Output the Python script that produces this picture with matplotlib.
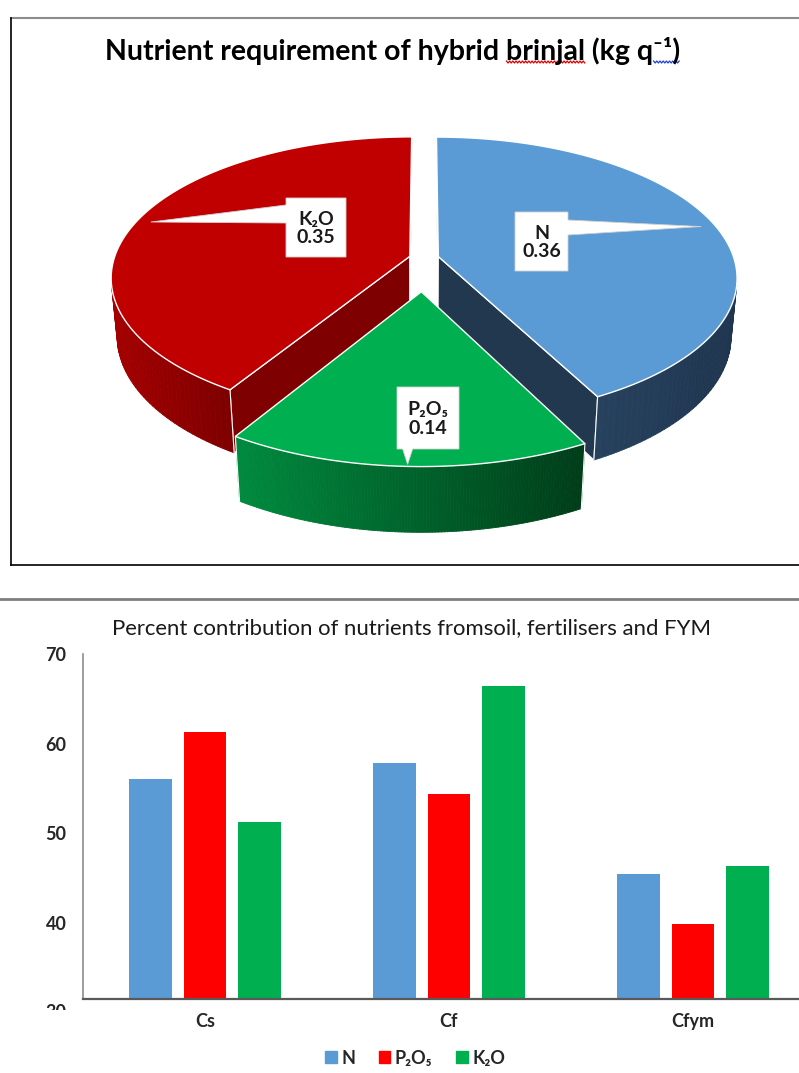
import numpy as np
import matplotlib.pyplot as plt
from matplotlib.patches import Polygon, Patch, Rectangle
from matplotlib.collections import PolyCollection
from matplotlib.colors import to_rgb

plt.rcParams['font.family'] = ['Lato', 'DejaVu Sans']

# nutrient requirement of hybrid brinjal, kg per quintal
nutrients = ['N', 'P₂O₅', 'K₂O']
requirement = [0.36, 0.14, 0.35]

# percent contribution from soil (Cs), fertiliser (Cf) and FYM (Cfym)
sources = ['Cs', 'Cf', 'Cfym']
share_n = [56.0, 57.8, 45.5]
share_p = [61.3, 54.4, 39.9]
share_k = [51.3, 66.4, 46.3]

W, H = 799, 1073
fig = plt.figure(figsize=(W / 100, H / 100), dpi=100)
renderer = fig.canvas.get_renderer()

# full-figure canvas in pixel units for the pie, frames and titles
bg = fig.add_axes([0, 0, 1, 1])
bg.set_xlim(0, W)
bg.set_ylim(H, 0)
bg.axis('off')

# ---------------- frames ----------------
bg.plot([11, W], [18, 18], color='#8C8C8C', lw=1.5)
bg.plot([11, 11], [18, 565], color='black', lw=1.2)
bg.plot([11, W], [565, 565], color='black', lw=1.2)
bg.plot([0, W], [599, 599], color='#7F7F7F', lw=2)


def fit_width(t, width_px):
    w = t.get_window_extent(renderer).width
    t.set_fontsize(t.get_fontsize() * width_px / w)


def text_width(s, size, weight):
    tmp = bg.text(0, 0, s, fontsize=size, fontweight=weight)
    w = tmp.get_window_extent(renderer).width
    tmp.remove()
    return w


# ---------------- pie title with spell-check squiggles ----------------
title_str = 'Nutrient requirement of hybrid brinjal (kg q⁻¹)'
t1 = bg.text(393, 51, title_str, ha='center', va='center',
             fontsize=16, fontweight='bold', color='black')
fit_width(t1, 577)
fs1 = t1.get_fontsize()
total_w = text_width(title_str, fs1, 'bold')
left = 393 - total_w / 2
end_brinjal = left + text_width('Nutrient requirement of hybrid brinjal', fs1, 'bold')
start_brinjal = end_brinjal - text_width('brinjal', fs1, 'bold')
start_sup = left + text_width('Nutrient requirement of hybrid brinjal (kg q', fs1, 'bold')


def squiggle(x0, x1, y, color):
    xs = np.arange(x0, x1, 1.6)
    ys = y + np.where(np.arange(len(xs)) % 2 == 0, -1.0, 1.0)
    bg.plot(xs, ys, color=color, lw=0.9)


squiggle(start_brinjal, end_brinjal, 62, '#E00000')
squiggle(start_sup, left + total_w, 62, '#2040E0')

# ---------------- 3-D exploded pie ----------------
top_colors = ['#5B9BD5', '#00B050', '#C00000']
wall_colors = [('#27425E', '#1F3550'), ('#008A3E', '#003D19'), ('#A40000', '#7E0000')]
cut_colors = ['#22384F', '#005A28', '#7F0000']
explode = [0.05, 0.235, 0.05]

FOC, DIST = 1726.0, 5.95
PHI = np.arcsin(0.495)
THICK = 0.225
CX, CY = 424.0, 316.0
CAM = np.array([0.0, DIST * np.sin(PHI), -DIST * np.cos(PHI)])


def project(X, Y, Z):
    d = DIST + Z * np.cos(PHI) - Y * np.sin(PHI)
    u = FOC * X / d
    v = FOC * (Y * np.cos(PHI) + Z * np.sin(PHI)) / d
    return CX + u, CY - v


def faces_camera(normal, point):
    return np.dot(normal, CAM - np.asarray(point)) > 0


total = sum(requirement)
slices = []
start = 90.0
for i, val in enumerate(requirement):
    span = 360.0 * val / total
    th_s, th_e = start, start - span
    start = th_e
    mid = np.radians((th_s + th_e) / 2)
    ox, oz = explode[i] * np.cos(mid), explode[i] * np.sin(mid)
    slices.append(dict(i=i, th_s=np.radians(th_s), th_e=np.radians(th_e),
                       mid=mid, ox=ox, oz=oz))

# farthest slice first
slices.sort(key=lambda s: -(s['oz']))
z = 2
for s in slices:
    i, ox, oz = s['i'], s['ox'], s['oz']
    th = np.linspace(s['th_s'], s['th_e'], 121)
    rx, rz = ox + np.cos(th), oz + np.sin(th)
    tx, ty = project(rx, THICK, rz)
    bx_, by_ = project(rx, 0.0, rz)
    apx_t = project(ox, THICK, oz)
    apx_b = project(ox, 0.0, oz)

    # radial cut faces
    for ang, sign in ((s['th_s'], 1), (s['th_e'], -1)):
        normal = sign * np.array([-np.sin(ang), 0.0, np.cos(ang)])
        pt = (ox + 0.5 * np.cos(ang), THICK / 2, oz + 0.5 * np.sin(ang))
        if faces_camera(normal, pt):
            rt = project(ox + np.cos(ang), THICK, oz + np.sin(ang))
            rb = project(ox + np.cos(ang), 0.0, oz + np.sin(ang))
            bg.add_patch(Polygon([apx_t, rt, rb, apx_b], closed=True,
                                 fc=cut_colors[i], ec='white', lw=0.8, zorder=z))

    # curved outer wall with horizontal shading
    tm = (th[:-1] + th[1:]) / 2
    vis = np.array([faces_camera(np.array([np.cos(a), 0.0, np.sin(a)]),
                                 (ox + np.cos(a), THICK / 2, oz + np.sin(a))) for a in tm])
    if vis.any():
        xm = (tx[:-1] + tx[1:]) / 2
        lo, hi = xm[vis].min(), xm[vis].max()
        c0, c1 = np.array(to_rgb(wall_colors[i][0])), np.array(to_rgb(wall_colors[i][1]))
        quads, cols = [], []
        for k in np.where(vis)[0]:
            quads.append([(tx[k], ty[k]), (tx[k + 1], ty[k + 1]),
                          (bx_[k + 1], by_[k + 1]), (bx_[k], by_[k])])
            t = (xm[k] - lo) / max(hi - lo, 1e-6)
            cols.append(c0 * (1 - t) + c1 * t)
        bg.add_collection(PolyCollection(quads, facecolors=cols, edgecolors=cols,
                                         linewidths=0.6, zorder=z))
        for k in (0, len(th) - 1):
            if vis[min(k, len(vis) - 1)]:
                bg.plot([tx[k], bx_[k]], [ty[k], by_[k]], color='white', lw=0.8, zorder=z + 0.5)

    # top face
    bg.add_patch(Polygon([apx_t] + list(zip(tx, ty)), closed=True,
                         fc=top_colors[i], ec='white', lw=1.0, zorder=z + 1))
    z += 2

# ---------------- data callouts ----------------
by_index = {s['i']: s for s in slices}
boxes = [(515, 212, 568, 271, 'right', 0.95),
         (397, 387, 459, 449, 'down', 0.99),
         (286, 198, 346, 257, 'left', 0.95)]
for i, (x0, y0, x1, y1, side, rr) in enumerate(boxes):
    s = by_index[i]
    tip = project(s['ox'] + rr * np.cos(s['mid']), THICK, s['oz'] + rr * np.sin(s['mid']))
    if side == 'left':
        pts = [(x0, y0), (x1, y0), (x1, y1), (x0, y1), (x0, y0 + 25), tip, (x0, y0 + 7)]
    elif side == 'right':
        pts = [(x0, y0), (x1, y0), (x1, y0 + 8), tip, (x1, y0 + 23), (x1, y1), (x0, y1)]
    else:
        pts = [(x0, y0), (x1, y0), (x1, y1), (tip[0] + 5, y1), tip, (tip[0] - 5, y1), (x0, y1)]
    bg.add_patch(Polygon(pts, closed=True, fc='white', ec='#D0D0D0', lw=0.6, zorder=20))
    bg.text((x0 + x1) / 2, (y0 + y1) / 2 + 1, f'{nutrients[i]}\n{requirement[i]:.2f}',
            ha='center', va='center', fontsize=14, fontweight='bold',
            color='#1A1A1A', linespacing=1.1, zorder=21)

# ---------------- bar chart ----------------
t2 = bg.text(412, 628, 'Percent contribution of nutrients fromsoil, fertilisers and FYM',
             ha='center', va='center', fontsize=13, color='#1A1A1A')
fit_width(t2, 599)

bar_colors = ['#5B9BD5', '#FF0000', '#00B050']
ax = fig.add_axes([83 / W, 1 - 999 / H, (815 - 83) / W, (999 - 654) / H])
ax.patch.set_visible(False)
x = np.arange(len(sources))
bw, off = 0.174, 0.2225
for k, (vals, c) in enumerate(zip([share_n, share_p, share_k], bar_colors)):
    ax.bar(x + (k - 1) * off, vals, bw, color=c, label=nutrients[k], zorder=2)
ax.set_xlim(-0.5, len(sources) - 0.5)
ax.set_ylim(31.5, 70)
ax.set_yticks([40, 50, 60, 70])
ax.set_xticks(x, sources)
ax.tick_params(length=0, labelsize=13, labelcolor='#262626')
ax.tick_params(axis='y', pad=12)
ax.tick_params(axis='x', pad=10)
for lab in ax.get_xticklabels() + ax.get_yticklabels():
    lab.set_fontweight('bold')
for sp in ('top', 'right'):
    ax.spines[sp].set_visible(False)
ax.spines['left'].set_color('#8C8C8C')
ax.spines['left'].set_linewidth(1.2)
ax.spines['bottom'].set_color('#595959')
ax.spines['bottom'].set_linewidth(1.6)
ax.spines['bottom'].set_zorder(3)

# the 30 gridline label sits just under the cropped bottom edge
y30 = H - ax.transData.transform((0, 30))[1]
bg.text(66, y30, '30', ha='right', va='center', fontsize=13,
        fontweight='bold', color='#262626')
bg.add_patch(Rectangle((38, 1009.5), 40, 12, fc='white', ec='none', zorder=30))

handles = [Patch(color=c) for c in bar_colors]
fig.legend(handles, nutrients, loc='center', bbox_to_anchor=(415 / W, 1 - 1058 / H),
           ncol=3, frameon=False, prop={'weight': 'bold', 'size': 13},
           labelcolor='#262626', handlelength=0.65, handleheight=0.65,
           handletextpad=0.25, columnspacing=1.3)

fig.savefig('out.png', dpi=100, facecolor='white')
